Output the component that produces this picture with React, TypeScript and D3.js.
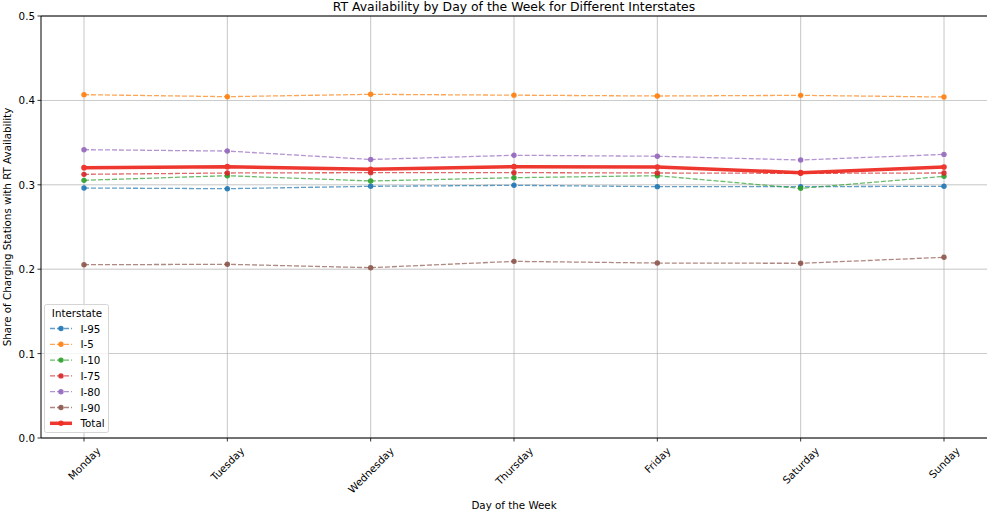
import React, { useEffect, useRef } from "react";
import * as d3 from "d3";

const days = ["Monday", "Tuesday", "Wednesday", "Thursday", "Friday", "Saturday", "Sunday"];
const i95 = [0.2962, 0.2954, 0.2982, 0.2994, 0.2978, 0.2978, 0.2982];
const i5 = [0.4068, 0.4044, 0.4072, 0.4062, 0.4052, 0.406, 0.404];
const i10 = [0.3053, 0.3108, 0.3045, 0.3084, 0.3108, 0.2958, 0.31];
const i75 = [0.3124, 0.314, 0.3144, 0.3144, 0.314, 0.3136, 0.314];
const i80 = [0.3416, 0.34, 0.33, 0.335, 0.3338, 0.3294, 0.336];
const i90 = [0.2053, 0.2058, 0.2018, 0.2093, 0.2073, 0.207, 0.2141];
const total = [0.3203, 0.3215, 0.3183, 0.3215, 0.3211, 0.3144, 0.3211];
const yTicks = [0, 0.1, 0.2, 0.3, 0.4, 0.5];

const seriesNames = ["I-95", "I-5", "I-10", "I-75", "I-80", "I-90"];
const seriesValues = [i95, i5, i10, i75, i80, i90];
const seriesColors = ["#1f77b4", "#ff7f0e", "#2ca02c", "#d62728", "#9467bd", "#8c564b"];
const totalColor = "#ee2d24";

const W = 987;
const H = 514;
const M = { left: 41, right: 987, top: 16, bottom: 438 };
const FONT = "DejaVu Sans, sans-serif";
const FS = 10.3;

export default function App() {
  const ref = useRef<SVGSVGElement>(null);

  useEffect(() => {
    const svg = d3.select(ref.current);
    svg.selectAll("*").remove();

    const x = d3.scalePoint<string>().domain(days).range([M.left, M.right]).padding(0.3);
    const y = d3.scaleLinear().domain([0, 0.5]).range([M.bottom, M.top]);

    // grid
    const g = svg.append("g");
    g.selectAll(".vg").data(days).enter().append("line")
      .attr("x1", (d) => x(d)!).attr("x2", (d) => x(d)!)
      .attr("y1", M.top).attr("y2", M.bottom)
      .attr("stroke", "#b0b0b0").attr("stroke-width", 0.8).attr("opacity", 0.9);
    g.selectAll(".hg").data(yTicks).enter().append("line")
      .attr("x1", M.left).attr("x2", M.right)
      .attr("y1", (d) => y(d)).attr("y2", (d) => y(d))
      .attr("stroke", "#b0b0b0").attr("stroke-width", 0.8).attr("opacity", 0.9);

    const line = d3.line<number>().x((_, i) => x(days[i])!).y((d) => y(d));

    seriesValues.forEach((vals, k) => {
      svg.append("path").attr("d", line(vals)!).attr("fill", "none")
        .attr("stroke", seriesColors[k]).attr("stroke-width", 1.3)
        .attr("stroke-dasharray", "5,2").attr("opacity", 0.7);
      svg.append("g").attr("opacity", 0.9).selectAll("circle").data(vals).enter().append("circle")
        .attr("cx", (_, i) => x(days[i])!).attr("cy", (d) => y(d))
        .attr("r", 2.7).attr("fill", seriesColors[k]);
    });

    const tg = svg.append("g").attr("opacity", 0.95);
    tg.append("path").attr("d", line(total)!).attr("fill", "none")
      .attr("stroke", totalColor).attr("stroke-width", 3.5);
    tg.selectAll("circle").data(total).enter().append("circle")
      .attr("cx", (_, i) => x(days[i])!).attr("cy", (d) => y(d))
      .attr("r", 2.8).attr("fill", totalColor);

    // spines (left, top, bottom)
    svg.append("path")
      .attr("d", `M${M.right + 2},${M.top}H${M.left}V${M.bottom}H${M.right + 2}`)
      .attr("fill", "none").attr("stroke", "#000").attr("stroke-width", 1);

    // y ticks
    yTicks.forEach((t) => {
      svg.append("line").attr("x1", M.left - 3.5).attr("x2", M.left)
        .attr("y1", y(t)).attr("y2", y(t)).attr("stroke", "#000").attr("stroke-width", 0.8);
      svg.append("text").attr("x", M.left - 6).attr("y", y(t))
        .attr("text-anchor", "end").attr("dominant-baseline", "central")
        .attr("font-family", FONT).attr("font-size", FS).attr("fill", "#000")
        .text(d3.format(".1f")(t));
    });

    // x ticks
    days.forEach((d) => {
      const px = x(d)!;
      svg.append("line").attr("x1", px).attr("x2", px)
        .attr("y1", M.bottom).attr("y2", M.bottom + 3.5).attr("stroke", "#000").attr("stroke-width", 0.8);
      const t = svg.append("text")
        .attr("text-anchor", "middle").attr("dominant-baseline", "central")
        .attr("font-family", FONT).attr("font-size", FS).attr("fill", "#000")
        .text(d);
      const w = (t.node() as SVGTextElement).getComputedTextLength();
      const h = 11;
      const cy = M.bottom + 7 + (w + h) / (2 * Math.SQRT2);
      t.attr("transform", `translate(${px},${cy}) rotate(-45)`);
    });

    // title and labels
    svg.append("text").attr("x", (M.left + M.right) / 2).attr("y", 11)
      .attr("text-anchor", "middle").attr("font-family", FONT).attr("font-size", 12.4)
      .attr("fill", "#000").text("RT Availability by Day of the Week for Different Interstates");
    svg.append("text").attr("x", (M.left + M.right) / 2).attr("y", 509)
      .attr("text-anchor", "middle").attr("font-family", FONT).attr("font-size", FS)
      .attr("fill", "#000").text("Day of the Week");
    svg.append("text")
      .attr("transform", `translate(11,${(M.top + M.bottom) / 2}) rotate(-90)`)
      .attr("text-anchor", "middle").attr("font-family", FONT).attr("font-size", FS)
      .attr("fill", "#000").text("Share of Charging Stations with RT Availability");

    // legend
    const lg = svg.append("g");
    lg.append("rect").attr("x", 44.5).attr("y", 304.5).attr("width", 64).attr("height", 128)
      .attr("rx", 2).attr("fill", "#fff").attr("fill-opacity", 0.8)
      .attr("stroke", "#d5d5d5").attr("stroke-width", 1);
    lg.append("text").attr("x", 77).attr("y", 312.5).attr("text-anchor", "middle")
      .attr("dominant-baseline", "central").attr("font-family", FONT).attr("font-size", FS)
      .attr("fill", "#000").text("Interstate");
    const names = [...seriesNames, "Total"];
    const colors = [...seriesColors, totalColor];
    names.forEach((n, i) => {
      const cy = 328.5 + i * 15.8;
      const isTotal = n === "Total";
      lg.append("line").attr("x1", 50).attr("x2", 72).attr("y1", cy).attr("y2", cy)
        .attr("stroke", colors[i]).attr("stroke-width", isTotal ? 3.5 : 1.3)
        .attr("stroke-dasharray", isTotal ? null : "5,2").attr("opacity", isTotal ? 0.95 : 0.7);
      lg.append("circle").attr("cx", 61).attr("cy", cy).attr("r", 2.7)
        .attr("fill", colors[i]).attr("opacity", 0.9);
      lg.append("text").attr("x", 80.5).attr("y", cy).attr("dominant-baseline", "central")
        .attr("font-family", FONT).attr("font-size", FS).attr("fill", "#000").text(n);
    });
  }, []);

  return (
    <svg ref={ref} width={W} height={H}
      style={{ position: "absolute", left: 0, top: 0, background: "#fff" }} />
  );
}
